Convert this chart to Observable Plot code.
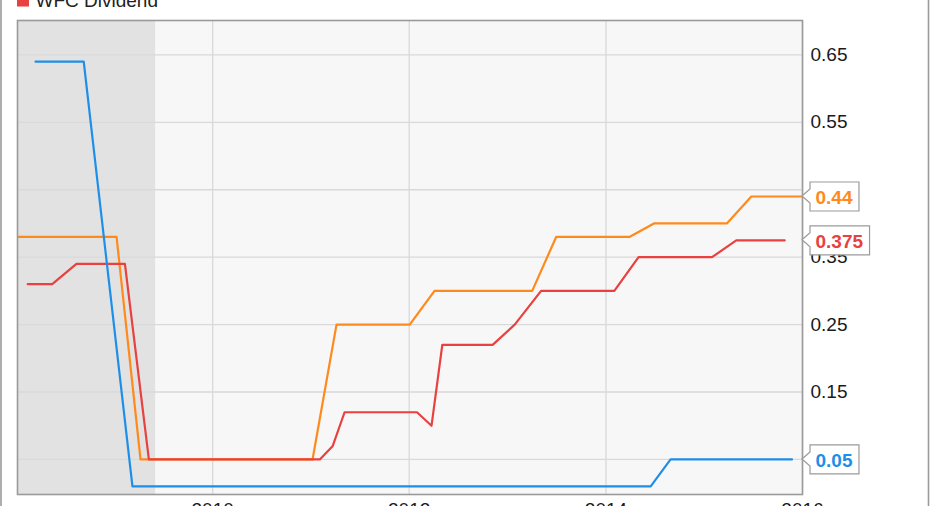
<!DOCTYPE html>
<html><head><meta charset="utf-8">
<script src="https://cdn.jsdelivr.net/npm/d3@7"></script>
<script src="https://cdn.jsdelivr.net/npm/@observablehq/plot@0.6"></script>
<style>
html,body{margin:0;padding:0;background:#fff;}
#chart{position:relative;width:931px;height:506px;overflow:hidden;}
#chart svg{display:block;}
</style>
</head><body><div id="chart"></div>
<script>
// ---- data ----
const legendLabel = "WFC Dividend";

const jpmDates  = ["2008-01-07","2009-01-09","2009-04-08","2011-01-07","2011-04-06","2012-01-03","2012-04-04","2013-04-02","2013-06-30","2014-03-29","2014-06-28","2015-03-26","2015-06-25","2015-12-27"];
const jpmValues = [0.38,0.38,0.05,0.05,0.25,0.25,0.30,0.30,0.38,0.38,0.40,0.40,0.44,0.44];

const wfcDates  = ["2008-02-14","2008-05-15","2008-08-13","2009-02-09","2009-05-09","2011-02-03","2011-03-23","2011-05-06","2012-01-30","2012-03-24","2012-05-03","2012-11-06","2013-01-27","2013-05-05","2014-02-01","2014-05-02","2015-01-30","2015-04-30","2015-10-27"];
const wfcValues = [0.31,0.31,0.34,0.34,0.05,0.05,0.07,0.12,0.12,0.10,0.22,0.22,0.25,0.30,0.30,0.35,0.35,0.375,0.375];

const cDates  = ["2008-03-14","2008-09-09","2009-03-09","2014-06-16","2014-08-29","2015-11-23"];
const cValues = [0.64,0.64,0.01,0.01,0.05,0.05];

const recessionStart = "2007-12-01";
const recessionEnd   = "2009-06-03";

const yTicks = [0.05,0.15,0.25,0.35,0.45,0.55,0.65];
const xTickLabels = ["2010","2012","2014","2016"];

// ---- build tables ----
const colors = {JPM:"#ff8a1c", WFC:"#e8413f", C:"#1e8fe8"};
const toRows = (name, ds, vs) => ds.map((d,i)=>({series:name, date:new Date(d), value:vs[i]}));
const jpm = toRows("JPM", jpmDates, jpmValues);
const wfc = toRows("WFC", wfcDates, wfcValues);
const cit = toRows("C", cDates, cValues);
const lastLabels = [
  {v: jpmValues[jpmValues.length-1], color: colors.JPM},
  {v: wfcValues[wfcValues.length-1], color: colors.WFC},
  {v: cValues[cValues.length-1], color: colors.C}
];
const xTicks = xTickLabels.map(s => new Date(s + "-01-01"));

const FONT = "Arial, 'Liberation Sans', sans-serif";
const ctx = document.createElement("canvas").getContext("2d");
ctx.font = "bold 19px " + FONT;

function valueBoxes(index, scales, values, dims) {
  const g = d3.create("svg:g");
  const x0 = dims.width - dims.marginRight;
  for (const L of lastLabels) {
    const y = scales.y(L.v);
    const t = String(L.v);
    const w = ctx.measureText(t).width + 12;
    const bx = x0 + 8, top = y - 14, bot = y + 15;
    g.append("path")
      .attr("d", `M${x0},${y}L${bx},${y-7}L${bx},${top}L${bx+w},${top}L${bx+w},${bot}L${bx},${bot}L${bx},${y+7}Z`)
      .attr("fill", "#fff").attr("stroke", "#9a9a9a").attr("stroke-width", 1.2);
    g.append("text").attr("x", bx + 5.5).attr("y", y + 8)
      .attr("text-anchor", "start")
      .attr("fill", L.color).attr("font-weight", "bold").attr("font-size", 19)
      .attr("font-family", FONT).text(t);
  }
  // outer figure border
  g.append("line").attr("x1",1).attr("x2",1).attr("y1",0).attr("y2",dims.height).attr("stroke","#9a9a9a").attr("stroke-width",1.6);
  g.append("line").attr("x1",928.5).attr("x2",928.5).attr("y1",0).attr("y2",dims.height).attr("stroke","#9a9a9a").attr("stroke-width",1.6);
  return g.node();
}

const chart = Plot.plot({
  width: 931, height: 506,
  marginTop: 20, marginBottom: 12, marginLeft: 17, marginRight: 129,
  style: {fontFamily: FONT, fontSize: "19px", color: "#1a1a1a", background: "transparent", overflow: "visible"},
  x: {type: "utc", domain: [new Date("2008-01-07"), new Date("2016-01-01")]},
  y: {domain: [-0.002, 0.701]},
  marks: [
    Plot.frame({fill: "#f7f7f7", stroke: null}),
    Plot.rect([{x1: new Date(recessionStart), x2: new Date(recessionEnd)}], {x1: "x1", x2: "x2", fill: "#e2e2e2", clip: true}),
    Plot.gridY(yTicks, {stroke: "#d9d9d9", strokeOpacity: 1, strokeWidth: 1.3}),
    Plot.gridX(xTicks, {stroke: "#d9d9d9", strokeOpacity: 1, strokeWidth: 1.3}),
    Plot.line(jpm, {x: "date", y: "value", stroke: colors.JPM, strokeWidth: 2.2, strokeLinejoin: "round", clip: true}),
    Plot.line(wfc, {x: "date", y: "value", stroke: colors.WFC, strokeWidth: 2.2, strokeLinejoin: "round", clip: true}),
    Plot.line(cit, {x: "date", y: "value", stroke: colors.C, strokeWidth: 2.2, strokeLinejoin: "round", clip: true}),
    Plot.frame({stroke: "#9a9a9a", strokeWidth: 1.6}),
    Plot.axisY({anchor: "right", ticks: yTicks, tickSize: 0, tickPadding: 8, tickFormat: d3.format(".2f"), label: null}),
    Plot.axisX({ticks: xTicks, tickSize: 0, tickPadding: 8, tickFormat: d3.utcFormat("%Y"), label: null}),
    valueBoxes,
    Plot.dot([legendLabel], {frameAnchor: "top-left", dx: 5.5, dy: -20, symbol: "square", r: 6.8, fill: colors.WFC, stroke: null}),
    Plot.text([legendLabel], {frameAnchor: "top-left", text: d => d, dx: 18, dy: -14, lineAnchor: "bottom", textAnchor: "start", fill: "#222", fontSize: 19})
  ]
});
document.getElementById("chart").appendChild(chart);
</script>
</body></html>
